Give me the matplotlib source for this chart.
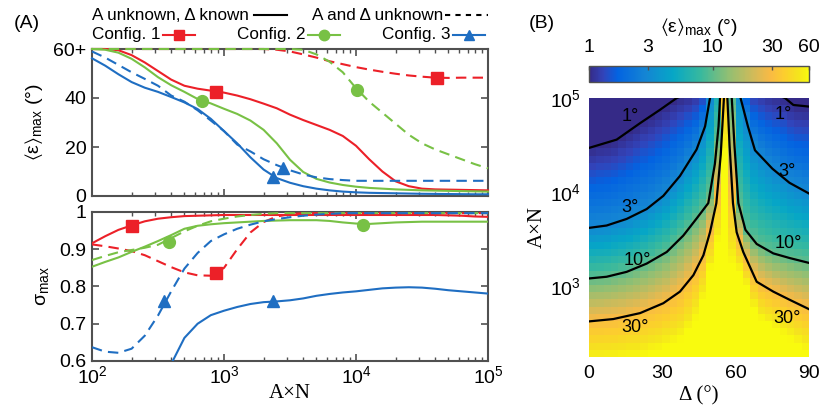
import numpy as np
import matplotlib
matplotlib.use("Agg")
import matplotlib.pyplot as plt
from matplotlib.colors import LinearSegmentedColormap, LogNorm
from matplotlib.lines import Line2D
from matplotlib.ticker import FixedLocator, FixedFormatter, LogLocator, NullFormatter

plt.rcParams['font.family'] = ['Liberation Sans', 'DejaVu Sans']
plt.rcParams['mathtext.default'] = 'regular'
plt.rcParams['xtick.direction'] = 'in'
plt.rcParams['ytick.direction'] = 'in'
plt.rcParams['xtick.top'] = True
plt.rcParams['ytick.right'] = True

# ---------------- data: panel (A) ----------------
AN = np.logspace(2, 5, 31)  # A x N grid, log10 = 2.0 ... 5.0 step 0.1

eps_c1_known = [60, 60, 59.5, 57.5, 54.5, 51, 47.5, 45, 43.8, 43, 42.2, 41, 39.5, 37.7, 35.8,
                33.2, 31, 29, 27, 24.5, 20.5, 15, 10, 6, 4, 3, 2.7, 2.6, 2.5, 2.4, 2.3]
eps_c1_unknown = [60] * 14 + [59.7, 59, 57.8, 56.5, 55, 53.8, 52.6, 51.6, 50.7, 49.9, 49.2,
                              48.7, 48.3, 48.2, 48.3, 48.3, 48.3]
eps_c2_known = [60, 59.7, 58.5, 56, 52.5, 48.5, 45.2, 42.5, 39.6, 37.8, 35.6, 33.5, 30.8, 27,
                21.5, 14.8, 9.8, 7, 5.5, 4.5, 3.8, 3.3, 3.0, 2.7, 2.5, 2.3, 2.2, 2.1, 2.0, 1.9, 1.8]
eps_c2_unknown = [60] * 16 + [59.7, 57.8, 54.8, 50.5, 44, 38.5, 34, 29.5, 25, 21.5, 19, 17, 15,
                              13, 11.3]
eps_c3_known = [56.2, 53.2, 49.7, 46.5, 44.2, 42.5, 40.4, 38.2, 35.5, 31.5, 26.5, 21.5, 15.8,
                10.8, 7.3, 5.4, 4, 3, 2.3, 1.8, 1.5, 1.3, 1.2, 1.1, 1.0, 0.9, 0.85, 0.8, 0.75,
                0.7, 0.7]
eps_c3_unknown = [59, 56.5, 53.5, 50.5, 47.8, 45, 41, 38.5, 35, 30.8, 26.5, 21, 18.2, 15, 12.6,
                  10.5, 8.8, 7.6, 6.9, 6.5] + [6.2] * 11

sig_c1_known = [0.916, 0.935, 0.952, 0.964, 0.975, 0.982, 0.986, 0.989, 0.99, 0.991] + \
               [0.992] * 16 + [0.992, 0.991, 0.99, 0.988, 0.987]
sig_c1_unknown = [0.913, 0.908, 0.902, 0.895, 0.884, 0.868, 0.852, 0.838, 0.83, 0.829, 0.85,
                  0.9, 0.945, 0.973, 0.988, 0.994] + [0.997] * 15
sig_c2_known = [0.853, 0.866, 0.878, 0.893, 0.907, 0.922, 0.938, 0.955, 0.963, 0.967,
                0.97, 0.972, 0.974, 0.976, 0.977, 0.978, 0.978, 0.978, 0.976, 0.972,
                0.969, 0.968, 0.970, 0.972, 0.973] + [0.974] * 6
sig_c2_unknown = [0.871, 0.882, 0.892, 0.898, 0.904, 0.912, 0.93, 0.948, 0.963, 0.975, 0.982,
                  0.988, 0.992, 0.995] + [0.997] * 17
sig_c3_known = [np.nan] * 5 + [0.52, 0.592, 0.662, 0.70, 0.723, 0.735, 0.745, 0.753, 0.758,
                               0.76, 0.763, 0.768, 0.775, 0.78, 0.784, 0.787, 0.791, 0.795,
                               0.797, 0.798, 0.797, 0.794, 0.79, 0.787, 0.784, 0.781]
sig_c3_unknown = [0.637, 0.625, 0.622, 0.633, 0.668, 0.722, 0.787, 0.848, 0.89, 0.922, 0.94,
                  0.955, 0.966, 0.975, 0.981, 0.986, 0.99, 0.993, 0.995] + [0.997] * 12

# marker positions (A x N, value)
eps_markers = {
    'c1_known': (10 ** 2.94, 42.6), 'c1_unknown': (10 ** 4.61, 48.3),
    'c2_known': (10 ** 2.83, 38.8), 'c2_unknown': (10 ** 4.01, 43.2),
    'c3_known': (10 ** 3.37, 7.9), 'c3_unknown': (10 ** 3.45, 11.5),
}
sig_markers = {
    'c1_known': (10 ** 2.30, 0.963), 'c1_unknown': (10 ** 2.94, 0.837),
    'c2_known': (10 ** 4.05, 0.966), 'c2_unknown': (10 ** 2.58, 0.920),
    'c3_known': (10 ** 3.37, 0.762), 'c3_unknown': (10 ** 2.545, 0.762),
}

# ---------------- data: panel (B) contour lines (Delta deg, log10 AxN) ----------------
# each branch continues a little past the top edge (log10 AxN = 5)
contour_levels = [1, 3, 10, 30]
c1_left = ([0, 11.3, 20.9, 29.0, 35.9, 42.0, 48.0, 53.0],
           [4.47, 4.558, 4.733, 4.874, 5.0, 5.06, 5.15, 5.35])
c1_right = ([60.0, 66.0, 74.0, 80.2, 83.6, 90], [5.35, 5.15, 5.06, 5.0, 4.926, 4.909])
c3_left = ([0, 7.2, 15.4, 23.6, 30.4, 37.2, 44.0, 47.5, 49.5, 51.5, 53.5],
           [3.621, 3.646, 3.716, 3.821, 3.961, 4.172, 4.453, 4.70, 5.0, 5.3, 5.8])
c3_right = ([58.5, 60.0, 62.0, 65.0, 67.9, 75.0, 82.0, 90],
            [5.8, 5.3, 5.0, 4.70, 4.445, 4.25, 4.10, 3.986])
c10_left = ([0, 7.2, 15.4, 23.6, 31.8, 38.6, 44.0, 48.8, 51.5, 53.0, 53.6, 54.5, 55.3],
            [3.084, 3.102, 3.154, 3.242, 3.365, 3.54, 3.72, 3.884, 4.3, 4.7, 5.0, 5.4, 5.9])
c10_right = ([57.0, 57.6, 58.4, 59.5, 61.1, 64.0, 68.6, 75.4, 82.2, 90],
             [5.9, 5.4, 5.0, 4.5, 3.884, 3.6, 3.45, 3.35, 3.30, 3.249])
c30_left = ([0, 9.95, 20.9, 30.4, 37.2, 42.7, 46.8, 49.5, 52.1, 53.9, 55.2, 55.6],
            [2.628, 2.653, 2.716, 2.821, 2.944, 3.119, 3.33, 3.575, 3.884, 4.4, 5.0, 5.3])
c30_right = ([56.3, 56.6, 57.5, 58.9, 60.4, 63.1, 68.6, 75.4, 82.2, 90],
             [5.3, 5.0, 4.5, 3.884, 3.575, 3.365, 3.049, 2.944, 2.856, 2.758])
branches = [(c1_left, c1_right), (c3_left, c3_right), (c10_left, c10_right), (c30_left, c30_right)]
contour_labels = [('1°', 16.8, 4.80), ('1°', 79.4, 4.82), ('3°', 16.8, 3.84), ('3°', 81.0, 4.22),
                  ('10°', 19.6, 3.27), ('10°', 81.4, 3.45), ('30°', 18.8, 2.56), ('30°', 81.0, 2.66)]

cbar_ticks = [1, 3, 10, 30, 60]

# ---------------- colours ----------------
RED = '#EC2028'
GREEN = '#78C145'
BLUE = '#1F6EC2'
SPINE = '#505050'

parula_pts = [(0.2081, 0.1663, 0.5292), (0.1959, 0.2645, 0.7279), (0.0117, 0.3875, 0.8820),
              (0.0793, 0.5200, 0.8312), (0.0228, 0.6535, 0.7768), (0.2178, 0.7250, 0.6193),
              (0.5709, 0.7485, 0.4494), (0.8507, 0.7299, 0.3360), (0.9739, 0.7314, 0.2666),
              (0.9880, 0.8066, 0.1794), (0.9589, 0.8949, 0.1132), (0.9763, 0.9831, 0.0538)]
parula_pos = [0, 4 / 63, 8 / 63, 16 / 63, 24 / 63, 32 / 63, 40 / 63, 48 / 63, 52 / 63, 56 / 63,
              60 / 63, 1]
parula = LinearSegmentedColormap.from_list('parula', list(zip(parula_pos, parula_pts)))

W, H = 822, 407
fig = plt.figure(figsize=(W / 100, H / 100), dpi=100)


def rect(l, t, r, b):
    return [l / W, 1 - b / H, (r - l) / W, (b - t) / H]


def fx(x):
    return x / W


def fy(y):
    return 1 - y / H


TICK = 14
ax1 = fig.add_axes(rect(92, 49, 488, 196))
ax2 = fig.add_axes(rect(92, 212, 488, 361))

lw = 1.5
dash = (5.0, 3.0)
series = [
    ('c1', RED, 's', eps_c1_known, eps_c1_unknown, sig_c1_known, sig_c1_unknown),
    ('c2', GREEN, 'o', eps_c2_known, eps_c2_unknown, sig_c2_known, sig_c2_unknown),
    ('c3', BLUE, '^', eps_c3_known, eps_c3_unknown, sig_c3_known, sig_c3_unknown),
]
for name, col, mk, ek, eu, sk, su in series:
    ax1.plot(AN, eu, color=col, lw=lw, dashes=dash, clip_on=False, zorder=3)
    ax1.plot(AN, ek, color=col, lw=lw, clip_on=False, zorder=3)
    ax2.plot(AN, su, color=col, lw=lw, dashes=dash, zorder=3)
    ax2.plot(AN, sk, color=col, lw=lw, zorder=3)
    ms = 8 if mk != 'o' else 8.5
    for kind in ('known', 'unknown'):
        x, y = eps_markers[name + '_' + kind]
        ax1.plot([x], [y], marker=mk, color=col, ms=ms, mec=col, zorder=4, clip_on=False)
        x, y = sig_markers[name + '_' + kind]
        ax2.plot([x], [y], marker=mk, color=col, ms=ms, mec=col, zorder=4)

for ax in (ax1, ax2):
    ax.set_xscale('log')
    ax.set_xlim(1e2, 1e5)
    ax.xaxis.set_major_locator(LogLocator(base=10, numticks=10))
    ax.xaxis.set_minor_locator(LogLocator(base=10, subs=np.arange(2, 10), numticks=10))
    ax.xaxis.set_minor_formatter(NullFormatter())
    for s in ax.spines.values():
        s.set_color(SPINE)
        s.set_linewidth(1.5)
    ax.tick_params(which='major', length=5, width=1.2, color=SPINE, labelsize=TICK, pad=4)
    ax.tick_params(which='minor', length=3, width=1.0, color=SPINE)

ax1.set_ylim(0, 60)
ax1.yaxis.set_major_locator(FixedLocator([0, 20, 40, 60]))
ax1.yaxis.set_major_formatter(FixedFormatter(['0', '20', '40', '60+']))
ax1.tick_params(axis='x', labelbottom=False)
ax1.set_ylabel(r'$\langle$ε$\rangle_{max}$ (°)', fontsize=14, labelpad=6)

ax2.set_ylim(0.6, 1.0)
ax2.yaxis.set_major_locator(FixedLocator([0.6, 0.7, 0.8, 0.9, 1.0]))
ax2.yaxis.set_major_formatter(FixedFormatter(['0.6', '0.7', '0.8', '0.9', '1']))
ax2.tick_params(axis='x', which='major', pad=3)
ax2.set_ylabel('σ$_{max}$', fontsize=14, labelpad=6)
ax2.set_xlabel('A×N', fontsize=15, family=['Liberation Serif', 'DejaVu Serif'], labelpad=-2)

# legend rows (panel A)
fig.text(fx(92), fy(15), 'A unknown, Δ known', ha='left', va='center', fontsize=12.3)
fig.add_artist(Line2D([fx(254), fx(287)], [fy(15), fy(15)], color='black', lw=1.5))
fig.text(fx(312), fy(15), 'A and Δ unknown', ha='left', va='center', fontsize=12.3)
fig.add_artist(Line2D([fx(445), fx(488)], [fy(15), fy(15)], color='black', lw=1.5,
                      dashes=(2.5, 2.5)))
for label, x0, col, mk in [('Config. 1', 92, RED, 's'), ('Config. 2', 237, GREEN, 'o'),
                           ('Config. 3', 382, BLUE, '^')]:
    fig.text(fx(x0), fy(35), label, ha='left', va='center', fontsize=12.3)
    l0 = x0 + 71
    fig.add_artist(Line2D([fx(l0), fx(l0 + 16), fx(l0 + 32)], [fy(35)] * 3, color=col, lw=1.5,
                          marker=mk, ms=7.5, markevery=[1], mec=col))

fig.text(fx(27), fy(23), '(A)', ha='center', va='center', fontsize=14)
fig.text(fx(542), fy(23), '(B)', ha='center', va='center', fontsize=14)

# ---------------- panel (B) heatmap ----------------
axh = fig.add_axes(rect(589, 98, 809, 357))
cax = fig.add_axes(rect(589, 66, 809, 82))

d_edges = np.linspace(0, 90, 31)
d_cent = 0.5 * (d_edges[:-1] + d_edges[1:])
y_edges = np.linspace(2.25, 5.0, 37)
y_cent = 0.5 * (y_edges[:-1] + y_edges[1:])


def crossing(left, right, d):
    dl, yl = left
    dr, yr = right
    if d <= dl[-1]:
        return np.interp(d, dl, yl)
    if d >= dr[0]:
        return np.interp(d, dr, yr)
    return max(yl[-1], yr[0]) + 0.2


logeps = np.zeros((len(y_cent), len(d_cent)))
for j, d in enumerate(d_cent):
    y1, y3, y10, y30 = [crossing(l, r, d) for (l, r) in branches]
    y10 = max(y10, y30 + 0.02)
    y3 = max(y3, y10 + 0.02)
    y1 = max(y1, y3 + 0.02)
    y60 = y30 - 1.5 * 0.301 * (y10 - y30) / 0.477
    y03 = y1 + (y1 - y3)
    xp = [y60, y30, y10, y3, y1, y03]
    fp = [np.log10(60), np.log10(30), 1.0, np.log10(3), 0.0, np.log10(0.3)]
    logeps[:, j] = np.interp(y_cent, xp, fp)

Z = 10 ** logeps
norm = LogNorm(vmin=1, vmax=60)
mesh = axh.pcolormesh(d_edges, 10 ** y_edges, Z, cmap=parula, norm=norm, shading='flat')
for left, right in branches:
    axh.plot(left[0], 10 ** np.array(left[1]), color='black', lw=1.6)
    axh.plot(right[0], 10 ** np.array(right[1]), color='black', lw=1.6)
for txt, d, y in contour_labels:
    axh.text(d, 10 ** y, txt, ha='center', va='center', fontsize=13)

axh.set_yscale('log')
axh.set_xlim(0, 90)
axh.set_ylim(10 ** 2.25, 1e5)
axh.set_xticks([0, 30, 60, 90])
axh.yaxis.set_major_locator(FixedLocator([1e3, 1e4, 1e5]))
axh.yaxis.set_minor_locator(FixedLocator([]))
axh.tick_params(which='both', length=0, labelsize=TICK, pad=6)
for s in axh.spines.values():
    s.set_visible(False)
axh.set_xlabel('Δ (°)', fontsize=15, family=['Liberation Serif', 'DejaVu Serif'], labelpad=3)
axh.set_ylabel('A×N', fontsize=15, family=['Liberation Serif', 'DejaVu Serif'], labelpad=2)

cb = fig.colorbar(mesh, cax=cax, orientation='horizontal')
cb.minorticks_off()
cb.set_ticks(cbar_ticks)
cb.set_ticklabels([str(t) for t in cbar_ticks])
cax.xaxis.set_ticks_position('top')
cax.xaxis.set_label_position('top')
cax.tick_params(length=3, width=1, color=SPINE, direction='in', labelsize=TICK, pad=7)
cb.outline.set_edgecolor(SPINE)
cb.outline.set_linewidth(1.0)
cb.set_label(r'$\langle$ε$\rangle_{max}$ (°)', fontsize=14, labelpad=5)

fig.savefig('out.png', dpi=100)
